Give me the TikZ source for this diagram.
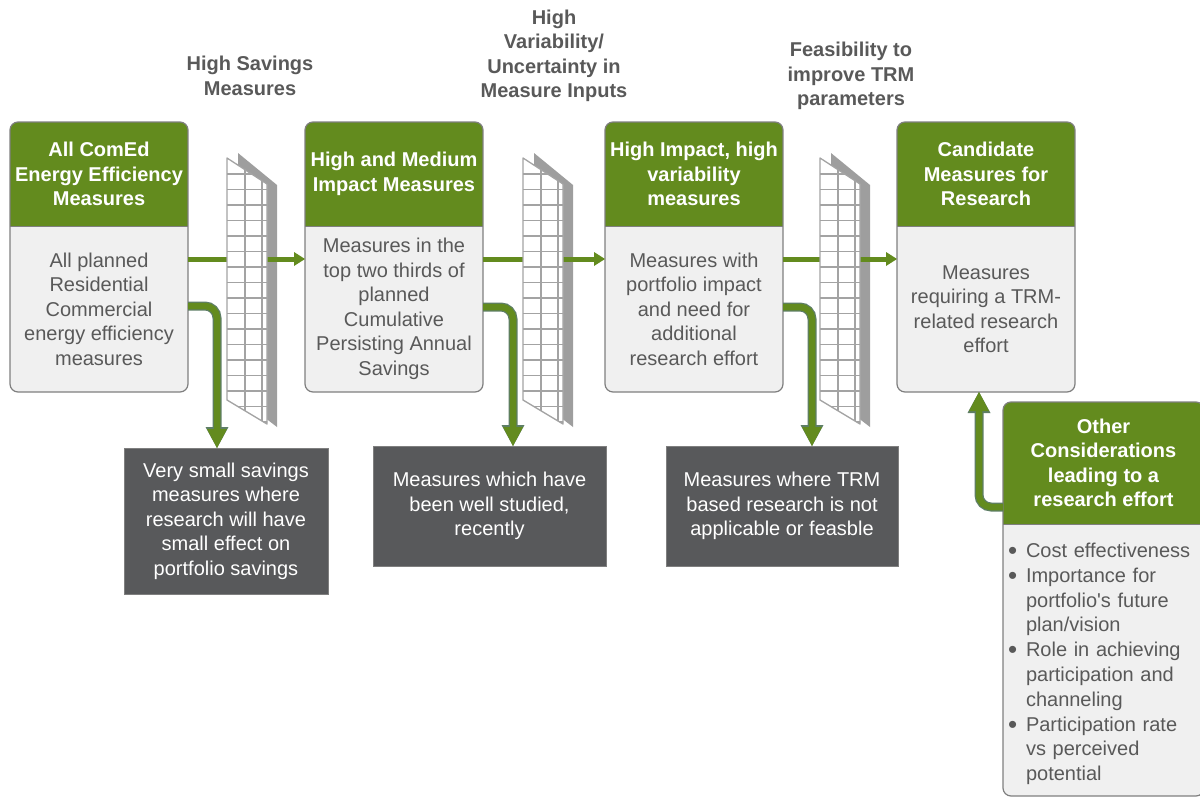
\documentclass[tikz,border=0pt]{standalone}
\usepackage{fontspec}
\setmainfont{Liberation Sans}
\usetikzlibrary{arrows.meta,calc}
\definecolor{grn}{HTML}{638B1E}
\definecolor{darkbx}{HTML}{58595B}
\definecolor{bodybg}{HTML}{F0F0F0}
\definecolor{bord}{HTML}{7F7F7F}
\definecolor{txt}{HTML}{595959}
\definecolor{filtc}{HTML}{9E9E9E}
\definecolor{gridc}{HTML}{A3A3A3}
\definecolor{arrline}{HTML}{5E7E66}

\newcommand{\stagebox}[4]{%
  \fill[bodybg, rounded corners=8pt] (#2,122) rectangle ++(178,270);
  \begin{scope}
    \clip[rounded corners=8pt] (#2,122) rectangle ++(178,270);
    \fill[grn] (#2,122) rectangle ++(178,104);
  \end{scope}
  \draw[bord, line width=1pt] (#2,226) -- ++(178,0);
  \draw[bord, line width=1.2pt, rounded corners=8pt] (#2,122) rectangle ++(178,270);
  \node[hdtext, minimum width=178pt, minimum height=104pt] (#1h) at (#2+89,174) {#3};
  \node[bdtext, minimum width=178pt, minimum height=166pt] (#1) at (#2+89,309) {#4};
}
\newcommand{\filterback}[1]{%
  \fill[filtc] (#1+11,153) -- (#1+50,185) -- (#1+50,427) -- (#1+11,397) -- cycle;
}
\newcommand{\filtergrid}[1]{%
  \begin{scope}
    \fill[white] (#1,158) -- (#1+40,184) -- (#1+40,424) -- (#1,400) -- cycle;
    \clip (#1,158) -- (#1+40,184) -- (#1+40,424) -- (#1,400) -- cycle;
    \foreach \k in {0,...,16} \draw[gridln] (#1-2,174+15.5*\k) -- ++(44,0);
    \draw[gridln] (#1+18,150) -- (#1+18,430);
    \draw[gridln] (#1+35,150) -- (#1+35,430);
  \end{scope}
  \draw[gridln, line join=round] (#1,158) -- (#1+40,184) -- (#1+40,424) -- (#1,400) -- cycle;
}
\newcommand{\bl}[1]{\makebox[18pt][l]{\raisebox{-2pt}{\fontsize{26}{26}\selectfont\textbullet}}#1}
\newcommand{\cl}[1]{\hspace*{18pt}#1}

\begin{document}
\begin{tikzpicture}[x=1pt,y=-1pt,
  every node/.style={inner sep=0pt, outer sep=0pt},
  hdtext/.style={text=white, font=\fontsize{20}{24.5}\selectfont\bfseries, align=center},
  bdtext/.style={text=txt, font=\fontsize{20}{24.5}\selectfont, align=center},
  lbl/.style={text=txt, font=\fontsize{20}{24.5}\selectfont\bfseries, align=center},
  darkbox/.style={fill=darkbx, draw=bord, line width=0.8pt, text=white, font=\fontsize{20}{24.5}\selectfont, align=center},
  gridln/.style={draw=gridc, line width=1.3pt},
  flow/.style={draw=grn, line width=5pt, -{Triangle[width=14pt,length=11pt,line width=0pt]}},
  bentout/.style={draw=arrline, line width=9pt, rounded corners=12pt, -{Triangle[width=23pt,length=21pt,line width=0pt]}},
  bentin/.style={draw=grn, line width=6.5pt, rounded corners=12pt, -{Triangle[width=20pt,length=19pt,line width=0pt]}}
]
\useasboundingbox (0,0) rectangle (1200,798);

% top labels
\node[lbl] (l1) at (250,76) {High Savings\\Measures};
\node[lbl] (l2) at (554,56) {High\\Variability/\\Uncertainty in\\Measure Inputs};
\node[lbl] (l3) at (851,76) {Feasibility to\\improve TRM\\parameters};

% stage boxes
\stagebox{b1}{10}{All ComEd\\Energy Efficiency\\Measures}{All planned\\Residential\\Commercial\\energy efficiency\\measures}
\stagebox{b2}{305}{High and Medium\\Impact Measures}{Measures in the\\top two thirds of\\planned\\Cumulative\\Persisting Annual\\Savings}
\stagebox{b3}{605}{High Impact, high\\variability\\measures}{Measures with\\portfolio impact\\and need for\\additional\\research effort}
\stagebox{b4}{897}{Candidate\\Measures for\\Research}{Measures\\requiring a TRM-\\related research\\effort}

% dark boxes
\node[darkbox, minimum width=204pt, minimum height=146pt] (dA) at (226,521) {Very small savings\\measures where\\research will have\\small effect on\\portfolio savings};
\node[darkbox, minimum width=233pt, minimum height=120pt] (dB) at (489.5,506) {Measures which have\\been well studied,\\recently};
\node[darkbox, minimum width=232pt, minimum height=120pt] (dC) at (782,506) {Measures where TRM\\based research is not\\applicable or feasble};

% filters (back panels)
\filterback{227}
\filterback{523}
\filterback{820}

% flow arrows
\draw[flow] ([yshift=50pt]b1.east) -- ([yshift=50pt]b2.west);
\draw[flow] ([yshift=50pt]b2.east) -- ([yshift=50pt]b3.west);
\draw[flow] ([yshift=50pt]b3.east) -- ([yshift=50pt]b4.west);

% filter grids
\filtergrid{227}
\filtergrid{523}
\filtergrid{820}

% bent arrows
\draw[bentout] ([yshift=3pt]b1.east) -| ([xshift=-9pt]dA.north);
\draw[bentin] ([yshift=3pt]b1.east) -| ([xshift=-9pt]dA.north);
\draw[bentout] ([yshift=2pt]b2.east) -| ([xshift=23.5pt]dB.north);
\draw[bentin] ([yshift=2pt]b2.east) -| ([xshift=23.5pt]dB.north);
\draw[bentout] ([yshift=2pt]b3.east) -| ([xshift=30pt]dC.north);
\draw[bentin] ([yshift=2pt]b3.east) -| ([xshift=30pt]dC.north);

% other considerations box
\fill[bodybg, rounded corners=8pt] (1003,402) rectangle (1204,796);
\begin{scope}
  \clip[rounded corners=8pt] (1003,402) rectangle (1204,796);
  \fill[grn] (1003,402) rectangle (1204,524);
\end{scope}
\draw[bord, line width=1pt] (1003,524) -- (1204,524);
\draw[bord, line width=1.2pt, rounded corners=8pt] (1003,402) rectangle (1204,796);
\node[hdtext, minimum width=201pt, minimum height=122pt] (oh) at (1103.5,463) {Other\\Considerations\\leading to a\\research effort};
\node[text=txt, font=\fontsize{20}{24.8}\selectfont, align=left, text width=190pt] (ob) at (1103,664) {%
\bl{Cost effectiveness}\\
\bl{Importance for}\\
\cl{portfolio\textquotesingle s future}\\
\cl{plan/vision}\\
\bl{Role in achieving}\\
\cl{participation and}\\
\cl{channeling}\\
\bl{Participation rate}\\
\cl{vs perceived}\\
\cl{potential}};

\draw[bentout] ([yshift=-44pt]oh.west) -| ([xshift=-7pt]b4.south);
\draw[bentin] ([yshift=-44pt]oh.west) -| ([xshift=-7pt]b4.south);
\end{tikzpicture}
\end{document}
